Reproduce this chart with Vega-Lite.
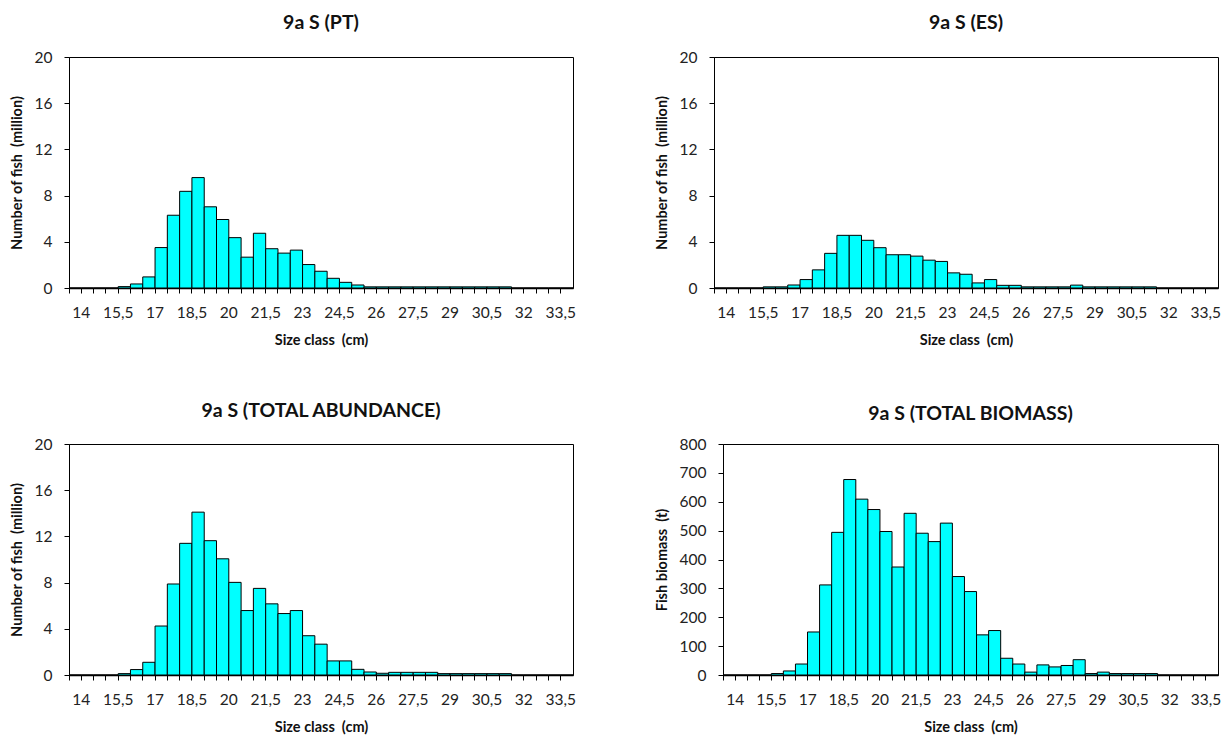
{
  "$schema": "https://vega.github.io/schema/vega-lite/v6.json",
  "padding": {"left": 8, "top": 12, "right": 0, "bottom": 0},
  "background": "white",
  "data": {"values": [
    {"size": 14, "pt": 0, "es": 0, "total": 0, "biomass": 0},
    {"size": 14.5, "pt": 0, "es": 0, "total": 0, "biomass": 0},
    {"size": 15, "pt": 0, "es": 0, "total": 0, "biomass": 0},
    {"size": 15.5, "pt": 0, "es": 0, "total": 0, "biomass": 0},
    {"size": 16, "pt": 0.12, "es": 0.1, "total": 0.12, "biomass": 5},
    {"size": 16.5, "pt": 0.35, "es": 0.1, "total": 0.47, "biomass": 14},
    {"size": 17, "pt": 0.96, "es": 0.26, "total": 1.1, "biomass": 38},
    {"size": 17.5, "pt": 3.5, "es": 0.73, "total": 4.24, "biomass": 149},
    {"size": 18, "pt": 6.3, "es": 1.57, "total": 7.88, "biomass": 312},
    {"size": 18.5, "pt": 8.37, "es": 3.0, "total": 11.4, "biomass": 494},
    {"size": 19, "pt": 9.56, "es": 4.56, "total": 14.1, "biomass": 677},
    {"size": 19.5, "pt": 7.03, "es": 4.56, "total": 11.63, "biomass": 609},
    {"size": 20, "pt": 5.93, "es": 4.13, "total": 10.06, "biomass": 573},
    {"size": 20.5, "pt": 4.36, "es": 3.49, "total": 8.02, "biomass": 497},
    {"size": 21, "pt": 2.67, "es": 2.88, "total": 5.58, "biomass": 374},
    {"size": 21.5, "pt": 4.74, "es": 2.88, "total": 7.5, "biomass": 560},
    {"size": 22, "pt": 3.4, "es": 2.76, "total": 6.16, "biomass": 491},
    {"size": 22.5, "pt": 3.02, "es": 2.41, "total": 5.32, "biomass": 462},
    {"size": 23, "pt": 3.28, "es": 2.3, "total": 5.58, "biomass": 526},
    {"size": 23.5, "pt": 2.03, "es": 1.31, "total": 3.4, "biomass": 341},
    {"size": 24, "pt": 1.45, "es": 1.19, "total": 2.67, "biomass": 289},
    {"size": 24.5, "pt": 0.84, "es": 0.44, "total": 1.22, "biomass": 139},
    {"size": 25, "pt": 0.49, "es": 0.73, "total": 1.22, "biomass": 154},
    {"size": 25.5, "pt": 0.26, "es": 0.23, "total": 0.49, "biomass": 58},
    {"size": 26, "pt": 0.1, "es": 0.23, "total": 0.26, "biomass": 38},
    {"size": 26.5, "pt": 0.1, "es": 0.1, "total": 0.15, "biomass": 10},
    {"size": 27, "pt": 0.1, "es": 0.1, "total": 0.23, "biomass": 35},
    {"size": 27.5, "pt": 0.1, "es": 0.1, "total": 0.23, "biomass": 28},
    {"size": 28, "pt": 0.1, "es": 0.1, "total": 0.23, "biomass": 33},
    {"size": 28.5, "pt": 0.1, "es": 0.25, "total": 0.23, "biomass": 53},
    {"size": 29, "pt": 0.1, "es": 0.1, "total": 0.12, "biomass": 5},
    {"size": 29.5, "pt": 0.1, "es": 0.1, "total": 0.12, "biomass": 10},
    {"size": 30, "pt": 0.1, "es": 0.1, "total": 0.12, "biomass": 5},
    {"size": 30.5, "pt": 0.1, "es": 0.1, "total": 0.12, "biomass": 5},
    {"size": 31, "pt": 0.1, "es": 0.1, "total": 0.12, "biomass": 5},
    {"size": 31.5, "pt": 0.1, "es": 0.1, "total": 0.12, "biomass": 5},
    {"size": 32, "pt": 0, "es": 0, "total": 0, "biomass": 0},
    {"size": 32.5, "pt": 0, "es": 0, "total": 0, "biomass": 0},
    {"size": 33, "pt": 0, "es": 0, "total": 0, "biomass": 0},
    {"size": 33.5, "pt": 0, "es": 0, "total": 0, "biomass": 0},
    {"size": 34, "pt": 0, "es": 0, "total": 0, "biomass": 0}
  ]},
  "vconcat": [
    {
      "spacing": 77,
      "hconcat": [
        {
          "title": "9a S (PT)",
          "width": 504, "height": 231,
          "mark": {"type": "bar"},
          "encoding": {
            "x": {"field": "size", "type": "ordinal", "title": "Size class \u00a0(cm)", "scale": {"paddingInner": 0, "paddingOuter": 0}},
            "y": {"field": "pt", "type": "quantitative", "title": "Number of fish \u00a0(million)", "scale": {"domain": [0, 20], "nice": false}, "axis": {"values": [0, 4, 8, 12, 16, 20]}}
          }
        },
        {
          "title": "9a S (ES)",
          "width": 504, "height": 231,
          "mark": {"type": "bar"},
          "encoding": {
            "x": {"field": "size", "type": "ordinal", "title": "Size class \u00a0(cm)", "scale": {"paddingInner": 0, "paddingOuter": 0}},
            "y": {"field": "es", "type": "quantitative", "title": "Number of fish \u00a0(million)", "scale": {"domain": [0, 20], "nice": false}, "axis": {"values": [0, 4, 8, 12, 16, 20]}}
          }
        }
      ]
    },
    {
      "spacing": 77,
      "hconcat": [
        {
          "title": {"text": "9a S (TOTAL ABUNDANCE)", "offset": 16},
          "width": 504, "height": 231,
          "mark": {"type": "bar"},
          "encoding": {
            "x": {"field": "size", "type": "ordinal", "title": "Size class \u00a0(cm)", "scale": {"paddingInner": 0, "paddingOuter": 0}},
            "y": {"field": "total", "type": "quantitative", "title": "Number of fish \u00a0(million)", "scale": {"domain": [0, 20], "nice": false}, "axis": {"values": [0, 4, 8, 12, 16, 20]}}
          }
        },
        {
          "title": {"text": "9a S (TOTAL BIOMASS)", "offset": 13},
          "width": 495, "height": 231,
          "mark": {"type": "bar"},
          "encoding": {
            "x": {"field": "size", "type": "ordinal", "title": "Size class \u00a0(cm)", "scale": {"paddingInner": 0, "paddingOuter": 0}},
            "y": {"field": "biomass", "type": "quantitative", "title": "Fish biomass \u00a0(t)", "scale": {"domain": [0, 800], "nice": false}, "axis": {"values": [0, 100, 200, 300, 400, 500, 600, 700, 800]}}
          }
        }
      ]
    }
  ],
  "spacing": 52,
  "config": {
    "font": "Lato",
    "view": {"stroke": "black", "strokeWidth": 1},
    "bar": {"fill": "#00FFFF", "stroke": "black", "strokeWidth": 1},
    "title": {"font": "Lato", "fontSize": 19.5, "fontWeight": "bold", "color": "#111", "offset": 17, "anchor": "middle"},
    "axis": {
      "labelFont": "Lato", "labelFontSize": 15.5, "labelColor": "#222",
      "titleFont": "Lato", "titleFontSize": 14.5, "titleFontWeight": "bold", "titleColor": "#111",
      "domainColor": "black", "tickColor": "black", "tickSize": 5, "grid": false
    },
    "axisX": {
      "bandPosition": 0, "labelOffset": 6.15, "labelAngle": 0, "labelOverlap": false,
      "labelExpr": "(round(datum.value * 2) - 28) % 3 == 0 ? replace(datum.label, '.', ',') : ''",
      "labelPadding": 12, "titlePadding": 13, "domainWidth": 1.5
    },
    "axisY": {"labelPadding": 12, "titlePadding": 10}
  }
}
